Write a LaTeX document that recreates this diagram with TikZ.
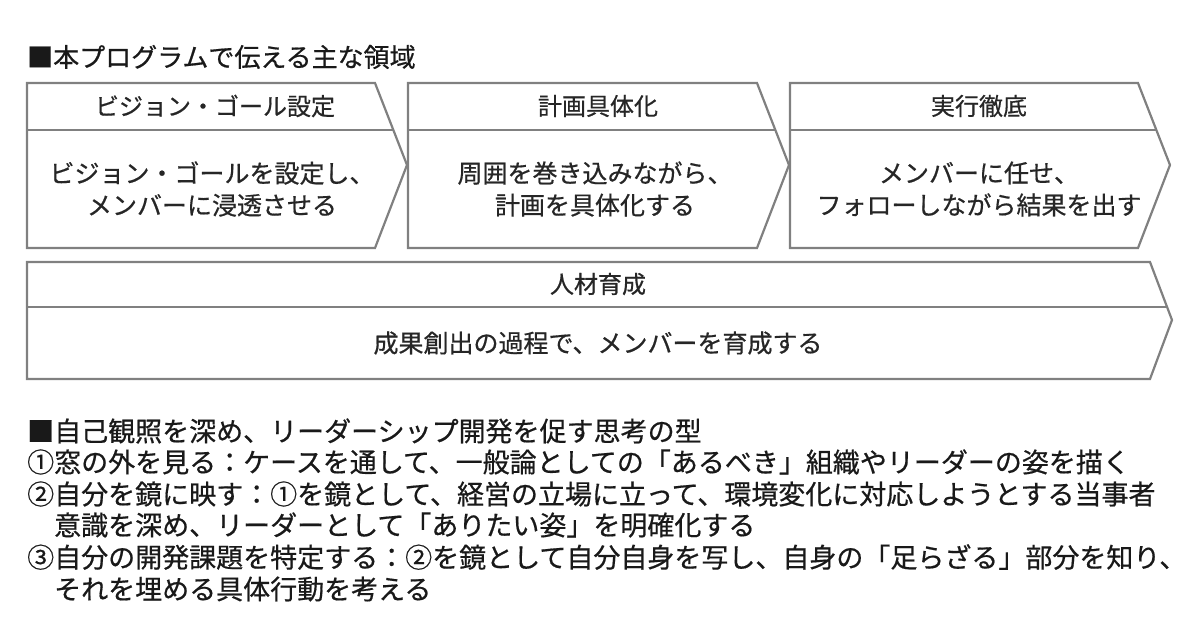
\documentclass[tikz,border=0pt]{standalone}
\usepackage{fontspec}
\setmainfont{Noto Sans CJK JP}[FakeBold=0.6]
\begin{document}
\begin{tikzpicture}[x=1pt,y=-1pt,
  box/.style={draw=black!50,line width=2.2pt,line join=miter},
  sep/.style={draw=black!50,line width=2.2pt},
  hd/.style={font=\fontsize{24}{28}\selectfont,text=black!85,inner sep=0pt},
  bd/.style={font=\fontsize{25}{32}\selectfont,text=black!85,inner sep=0pt,align=center},
  ln/.style={font=\fontsize{27}{32}\selectfont,text=black!90,inner sep=0pt,anchor=west}]
\useasboundingbox (0,0) rectangle (1200,626);
% title
\node[ln,font=\fontsize{26}{30}\selectfont] (t1) at (27,57) {■本プログラムで伝える主な領域};
% box 1
\draw[box] (27,83) -- (375,83) -- (407,165) -- (375,248) -- (27,248) -- cycle;
\draw[sep] (27,130) -- (393,130);
\node[hd] (h1) at (215,106) {ビジョン・ゴール設定};
\node[bd] (b1) at (212,189) {ビジョン・ゴールを設定し、\\メンバーに浸透させる};
% box 2
\draw[box] (408,83) -- (757,83) -- (789,165) -- (757,248) -- (408,248) -- cycle;
\draw[sep] (408,130) -- (775,130);
\node[hd] (h2) at (598,106) {計画具体化};
\node[bd] (b2) at (595,189) {周囲を巻き込みながら、\\計画を具体化する};
% box 3
\draw[box] (790,83) -- (1138,83) -- (1170,165) -- (1138,248) -- (790,248) -- cycle;
\draw[sep] (790,130) -- (1156,130);
\node[hd] (h3) at (979,106) {実行徹底};
\node[bd] (b3) at (979,189) {メンバーに任せ、\\フォローしながら結果を出す};
% big box
\draw[box] (27,262) -- (1150,262) -- (1172,320) -- (1150,379) -- (27,379) -- cycle;
\draw[sep] (27,307) -- (1167,307);
\node[hd] (h4) at (598,284) {人材育成};
\node[bd] (b4) at (598,343) {成果創出の過程で、メンバーを育成する};
% lower text
\node[ln] (l1) at (27,431) {■自己観照を深め、リーダーシップ開発を促す思考の型};
\node[ln] (l2) at (27,462) {①窓の外を見る：ケースを通して、一般論としての「あるべき」組織やリーダーの姿を描く};
\node[ln] (l3) at (27,494) {②自分を鏡に映す：①を鏡として、経営の立場に立って、環境変化に対応しようとする当事者};
\node[ln] (l4) at (54,525) {意識を深め、リーダーとして「ありたい姿」を明確化する};
\node[ln] (l5) at (27,557) {③自分の開発課題を特定する：②を鏡として自分自身を写し、自身の「足らざる」部分を知り、};
\node[ln] (l6) at (54,589) {それを埋める具体行動を考える};
\end{tikzpicture}
\end{document}
